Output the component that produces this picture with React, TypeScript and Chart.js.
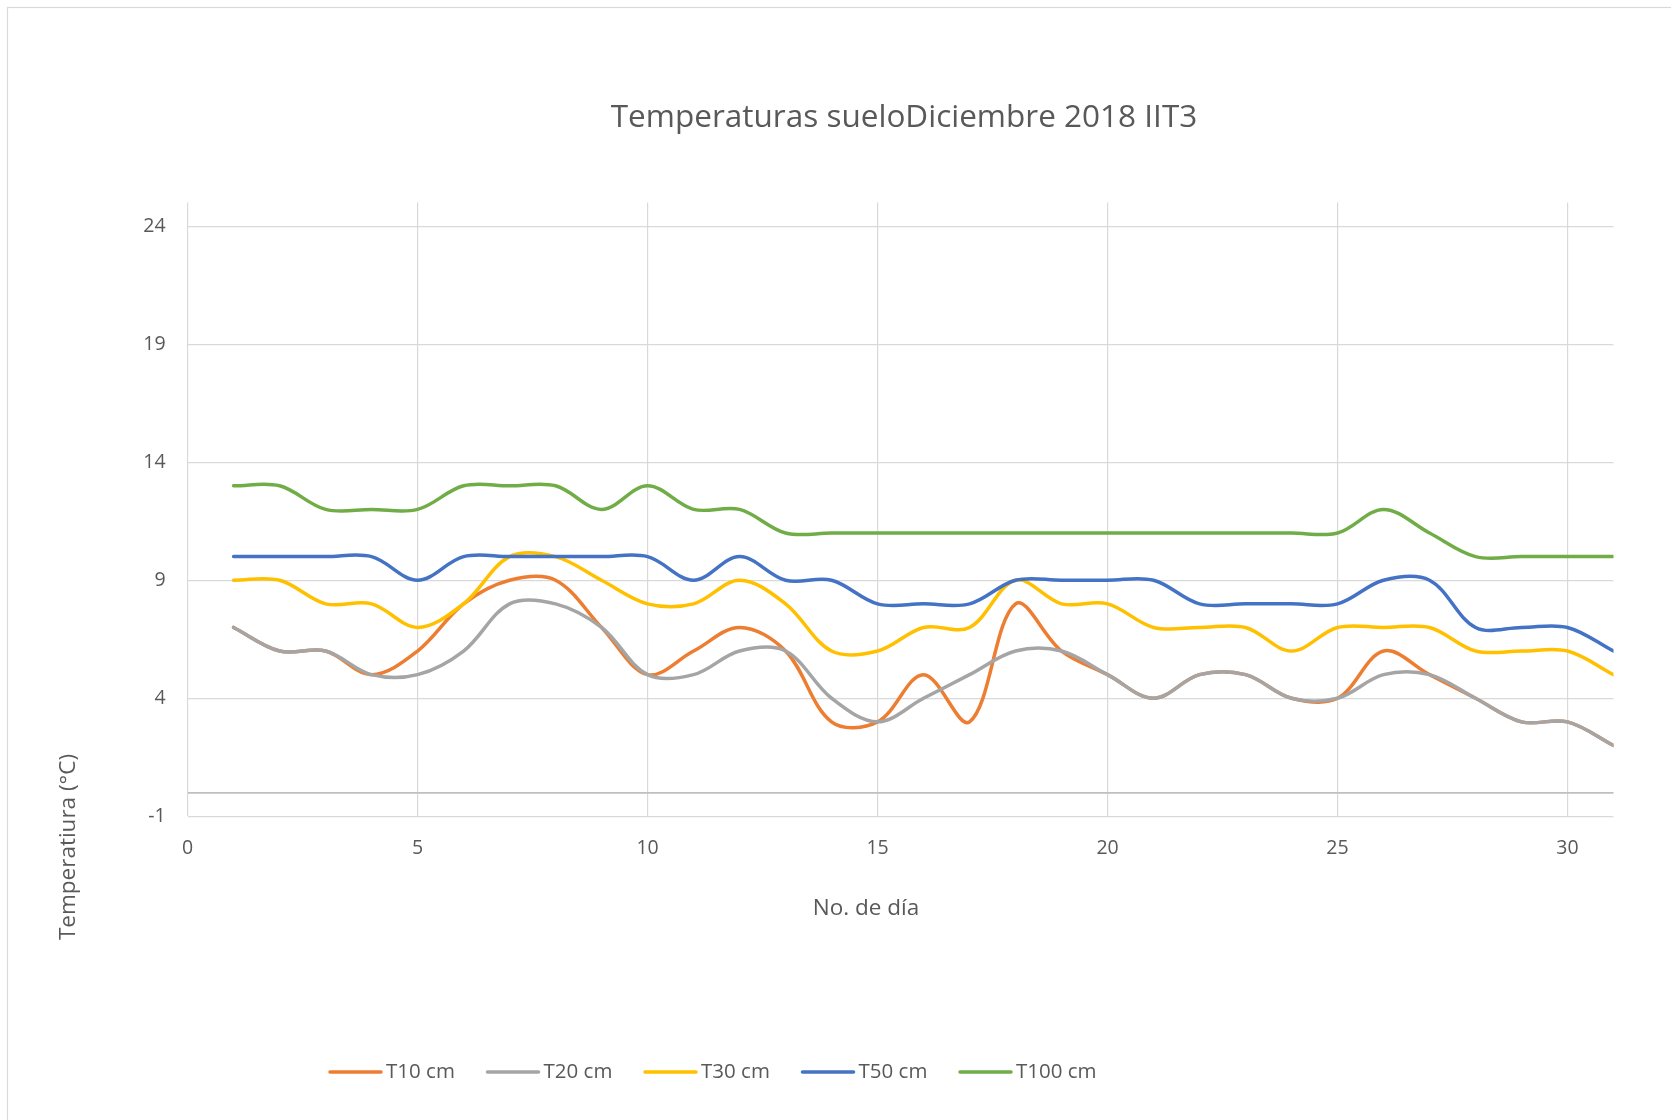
import { useEffect, useRef } from 'react';
import { Chart, registerables } from 'chart.js';

Chart.register(...registerables);

const TITLE = 'Temperaturas sueloDiciembre 2018 IIT3';
const X_TITLE = 'No. de día';
const Y_TITLE = 'Temperatiura (°C)';

const DAYS = [1, 2, 3, 4, 5, 6, 7, 8, 9, 10, 11, 12, 13, 14, 15, 16, 17, 18, 19, 20, 21, 22, 23, 24, 25, 26, 27, 28, 29, 30, 31];

const SERIES_NAMES = ['T10 cm', 'T20 cm', 'T30 cm', 'T50 cm', 'T100 cm'];
const T10 = [7, 6, 6, 5, 6, 8, 9, 9, 7, 5, 6, 7, 6, 3, 3, 5, 3, 8, 6, 5, 4, 5, 5, 4, 4, 6, 5, 4, 3, 3, 2];
const T20 = [7, 6, 6, 5, 5, 6, 8, 8, 7, 5, 5, 6, 6, 4, 3, 4, 5, 6, 6, 5, 4, 5, 5, 4, 4, 5, 5, 4, 3, 3, 2];
const T30 = [9, 9, 8, 8, 7, 8, 10, 10, 9, 8, 8, 9, 8, 6, 6, 7, 7, 9, 8, 8, 7, 7, 7, 6, 7, 7, 7, 6, 6, 6, 5];
const T50 = [10, 10, 10, 10, 9, 10, 10, 10, 10, 10, 9, 10, 9, 9, 8, 8, 8, 9, 9, 9, 9, 8, 8, 8, 8, 9, 9, 7, 7, 7, 6];
const T100 = [13, 13, 12, 12, 12, 13, 13, 13, 12, 13, 12, 12, 11, 11, 11, 11, 11, 11, 11, 11, 11, 11, 11, 11, 11, 12, 11, 10, 10, 10, 10];

const X_TICKS = [0, 5, 10, 15, 20, 25, 30];
const Y_TICKS = [-1, 4, 9, 14, 19, 24];
const COLORS = ['#ED7D31', '#A5A5A5', '#FFC000', '#4472C4', '#70AD47'];

const TEXT_COLOR = '#595959';
const FONT = '"Open Sans", "Noto Sans", sans-serif';

const decor = {
  id: 'decor',
  beforeDraw(chart: any) {
    const ctx = chart.ctx;
    ctx.save();
    ctx.fillStyle = '#ffffff';
    ctx.fillRect(0, 0, chart.width, chart.height);
    ctx.strokeStyle = '#D9D9D9';
    ctx.lineWidth = 1.2;
    ctx.strokeRect(7.5, 7.5, chart.width + 50, chart.height + 50);
    ctx.restore();
  },
  afterDraw(chart: any) {
    const ctx = chart.ctx;
    ctx.save();
    ctx.fillStyle = TEXT_COLOR;
    ctx.textBaseline = 'middle';
    // title
    ctx.textAlign = 'center';
    ctx.font = `31.5px ${FONT}`;
    ctx.fillText(TITLE, 904, 118);
    // x axis title
    ctx.font = `22.5px ${FONT}`;
    ctx.fillText(X_TITLE, 866, 909);
    // y axis title
    ctx.save();
    ctx.translate(69, 847);
    ctx.rotate(-Math.PI / 2);
    ctx.fillText(Y_TITLE, 0, 0);
    ctx.restore();
    // legend
    ctx.textAlign = 'left';
    ctx.font = `20.5px ${FONT}`;
    chart.data.datasets.forEach((ds: any, i: number) => {
      const x0 = 330 + i * 157.5;
      const y = 1072;
      ctx.strokeStyle = ds.borderColor;
      ctx.lineWidth = 3.5;
      ctx.lineCap = 'round';
      ctx.beginPath();
      ctx.moveTo(x0, y);
      ctx.lineTo(x0 + 51, y);
      ctx.stroke();
      ctx.fillStyle = TEXT_COLOR;
      ctx.fillText(ds.label, x0 + 56, y);
    });
    ctx.restore();
  },
};

export default function App() {
  const ref = useRef<HTMLCanvasElement | null>(null);

  useEffect(() => {
    if (!ref.current) return;
    const series = [T10, T20, T30, T50, T100];
    const chart = new Chart(ref.current, {
      type: 'line',
      data: {
        datasets: series.map((vals, i) => ({
          label: SERIES_NAMES[i],
          data: DAYS.map((d, j) => ({ x: d, y: vals[j] })),
          borderColor: COLORS[i],
          backgroundColor: COLORS[i],
          borderWidth: 3.5,
          pointRadius: 0,
          tension: 0.35,
          borderCapStyle: 'round',
          borderJoinStyle: 'round',
          fill: false,
          order: series.length - i,
        })),
      },
      options: {
        animation: false,
        responsive: false,
        devicePixelRatio: 1,
        layout: { padding: { left: 0, right: 57.5, top: 202.5, bottom: 243.7 } },
        plugins: {
          legend: { display: false },
          title: { display: false },
          tooltip: { enabled: false },
        },
        scales: {
          x: {
            type: 'linear',
            min: 0,
            max: 31,
            afterBuildTicks: (scale: any) => {
              scale.ticks = X_TICKS.map((v) => ({ value: v }));
            },
            afterFit: (scale: any) => {
              scale.height = 60;
            },
            ticks: {
              color: TEXT_COLOR,
              font: { family: FONT, size: 19.5 },
              padding: 20,
              maxRotation: 0,
              autoSkip: false,
            },
            grid: { color: '#D9D9D9', lineWidth: 1.2, drawTicks: false },
            border: { display: false },
          },
          y: {
            type: 'linear',
            min: -1,
            max: 25,
            afterBuildTicks: (scale: any) => {
              scale.ticks = [...Y_TICKS, 0].sort((a, b) => a - b).map((v) => ({ value: v }));
            },
            afterFit: (scale: any) => {
              scale.width = 187.6;
            },
            ticks: {
              color: TEXT_COLOR,
              font: { family: FONT, size: 19.5 },
              padding: 22,
              autoSkip: false,
              callback: (v: any) => (Y_TICKS.includes(Number(v)) ? String(v) : ''),
            },
            grid: {
              color: (c: any) => (c.tick && c.tick.value === 0 ? '#BFBFBF' : '#D9D9D9'),
              lineWidth: (c: any) => (c.tick && c.tick.value === 0 ? 1.8 : 1.2),
              drawTicks: false,
            },
            border: { display: false },
          },
        },
      },
      plugins: [decor],
    } as any);
    return () => chart.destroy();
  }, []);

  return (
    <div style={{ position: 'absolute', left: 0, top: 0, width: 1671, height: 1120 }}>
      <canvas ref={ref} width={1671} height={1120} style={{ display: 'block' }} />
    </div>
  );
}
